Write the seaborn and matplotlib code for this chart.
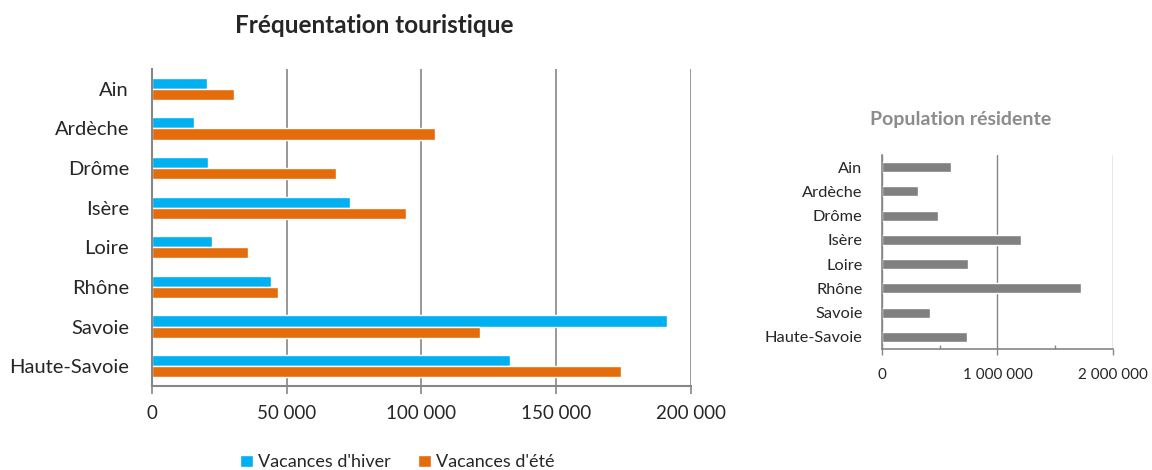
import numpy as np
import pandas as pd
import seaborn as sns
import matplotlib.pyplot as plt
from matplotlib.ticker import FuncFormatter, MultipleLocator

departements = ['Ain', 'Ardèche', 'Drôme', 'Isère', 'Loire', 'Rhône', 'Savoie', 'Haute-Savoie']
hiver = [20300, 15500, 20700, 73500, 22400, 44200, 191000, 133000]
ete = [30300, 105000, 68300, 94100, 35700, 46600, 121900, 174000]
population = [596000, 315000, 483000, 1206000, 746000, 1724000, 413000, 735000]
saisons = ["Vacances d'hiver", "Vacances d'été"]

sns.set_style('white')
plt.rcParams['font.family'] = ['Lato', 'DejaVu Sans']

grid_col = '#868686'

def espace(v, pos):
    return '{:,.0f}'.format(v).replace(',', ' ')

df = pd.DataFrame({
    'dept': departements * 2,
    'valeur': hiver + ete,
    'saison': [saisons[0]] * len(departements) + [saisons[1]] * len(departements),
})
dfpop = pd.DataFrame({'dept': departements, 'pop': population})

fig = plt.figure(figsize=(11.52, 4.70), dpi=100)

# graphique principal
ax = fig.add_axes([0.1319, 0.1787, 0.4679, 0.6745])
sns.barplot(data=df, y='dept', x='valeur', hue='saison', orient='h', ax=ax,
            palette=['#00B0F0', '#E46C0A'], saturation=1, width=0.56, gap=0,
            errorbar=None)
ax.set_xlim(0, 200000)
ax.set_ylim(7.5, -0.5)
ax.xaxis.set_major_locator(MultipleLocator(50000))
ax.xaxis.set_major_formatter(FuncFormatter(espace))
ax.set_yticks(np.arange(-0.5, 8, 1), minor=True)
ax.grid(axis='x', color=grid_col, lw=1.2)
ax.set_axisbelow(True)
ax.set_xlabel('')
ax.set_ylabel('')
for s in ['top', 'right']:
    ax.spines[s].set_visible(False)
for s in ['left', 'bottom']:
    ax.spines[s].set_color(grid_col)
    ax.spines[s].set_linewidth(1.5)
ax.tick_params(axis='y', which='major', length=0, labelsize=14.5, pad=16.5)
ax.tick_params(axis='y', which='minor', length=6, color=grid_col, width=1.2, direction='out')
ax.tick_params(axis='x', which='major', length=6, color=grid_col, width=1.2, labelsize=13.5, pad=8,
               direction='out', bottom=True)
handles, labels = ax.get_legend_handles_labels()
ax.get_legend().remove()
fig.legend(handles, labels, loc='center', bbox_to_anchor=(0.345, 0.016), ncol=2, frameon=False,
           fontsize=13, handlelength=0.7, handleheight=0.7, handletextpad=0.3, columnspacing=1.5)
fig.text(0.3247, 0.945, 'Fréquentation touristique', ha='center', va='center',
         fontsize=17.5, fontweight='bold')

# population
ax2 = fig.add_axes([0.7656, 0.2574, 0.2005, 0.4128])
sns.barplot(data=dfpop, y='dept', x='pop', orient='h', ax=ax2, color='#808080',
            saturation=1, width=0.42, errorbar=None)
ax2.set_xlim(0, 2000000)
ax2.set_ylim(7.5, -0.5)
ax2.xaxis.set_major_locator(MultipleLocator(1000000))
ax2.xaxis.set_minor_locator(MultipleLocator(500000))
ax2.xaxis.set_major_formatter(FuncFormatter(espace))
ax2.set_yticks(np.arange(-0.5, 8, 1), minor=True)
ax2.grid(axis='x', which='major', color=grid_col, lw=1)
ax2.set_axisbelow(True)
ax2.set_xlabel('')
ax2.set_ylabel('')
for s in ['top', 'right']:
    ax2.spines[s].set_visible(False)
for s in ['left', 'bottom']:
    ax2.spines[s].set_color(grid_col)
    ax2.spines[s].set_linewidth(1.2)
ax2.tick_params(axis='y', which='major', length=0, labelsize=11.8, pad=14)
ax2.tick_params(axis='y', which='minor', length=4, color=grid_col, width=1, direction='out')
ax2.tick_params(axis='x', which='major', length=4, color=grid_col, width=1, labelsize=11, pad=10,
                direction='out', bottom=True)
ax2.tick_params(axis='x', which='minor', length=3, color=grid_col, width=1, direction='in', bottom=True)
fig.text(0.834, 0.745, 'Population résidente', ha='center', va='center',
         fontsize=14, fontweight='bold', color='#8c8c8c')

fig.savefig('out.png', dpi=100)
